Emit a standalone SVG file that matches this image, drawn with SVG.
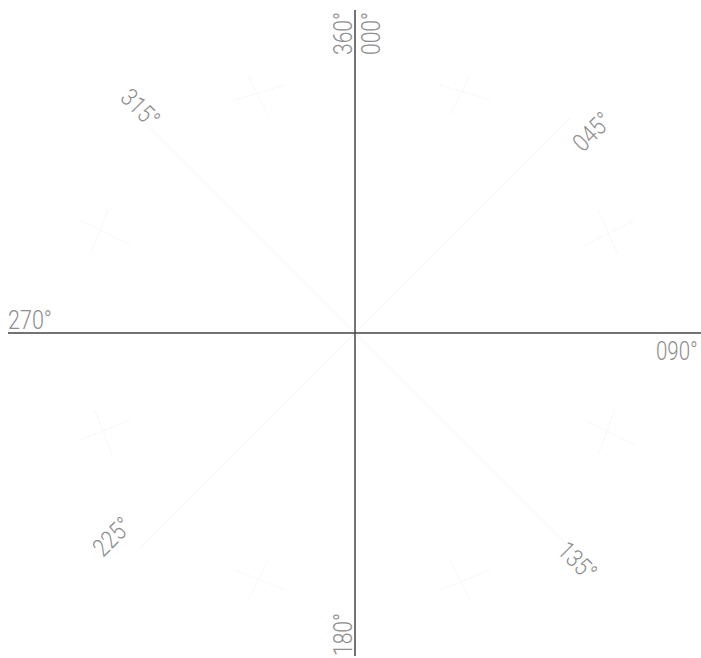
<svg xmlns="http://www.w3.org/2000/svg" width="701" height="658" viewBox="0 0 701 658">
<style>
.lbl{font-family:Roboto,"Liberation Sans",sans-serif;font-weight:300;font-size:25px;fill:#8e8e8e}
.axis{stroke:#444;stroke-width:1.5;fill:none}
.faint{stroke:#f5f5f5;stroke-width:1;fill:none}
.tick{stroke:#f8f8f8;stroke-width:1;fill:none}
</style>
<rect width="701" height="658" fill="#fff"/>
<g id="connectors">
<line class="faint" x1="355" y1="333" x2="140" y2="118"/>
<line class="faint" x1="355" y1="333" x2="570" y2="118"/>
<line class="faint" x1="355" y1="333" x2="140" y2="548"/>
<line class="faint" x1="355" y1="333" x2="570" y2="548"/>
<line class="tick" x1="80" y1="220" x2="130" y2="245"/>
<line class="tick" x1="108" y1="210" x2="90" y2="255"/>
<line class="tick" x1="235" y1="100" x2="285" y2="85"/>
<line class="tick" x1="248" y1="75" x2="268" y2="115"/>
<line class="tick" x1="440" y1="85" x2="490" y2="100"/>
<line class="tick" x1="470" y1="75" x2="450" y2="115"/>
<line class="tick" x1="585" y1="245" x2="635" y2="220"/>
<line class="tick" x1="598" y1="210" x2="618" y2="255"/>
<line class="tick" x1="80" y1="440" x2="130" y2="420"/>
<line class="tick" x1="95" y1="410" x2="112" y2="455"/>
<line class="tick" x1="585" y1="420" x2="635" y2="445"/>
<line class="tick" x1="615" y1="410" x2="598" y2="455"/>
<line class="tick" x1="235" y1="570" x2="285" y2="590"/>
<line class="tick" x1="268" y1="560" x2="248" y2="600"/>
<line class="tick" x1="440" y1="590" x2="490" y2="570"/>
<line class="tick" x1="450" y1="560" x2="470" y2="600"/>
<line class="axis" x1="355" y1="10" x2="355" y2="656"/>
<line class="axis" x1="8" y1="333" x2="701" y2="333"/>
</g>
<g id="n000"><text class="lbl" transform="translate(380,55) rotate(-90)" textLength="43" lengthAdjust="spacingAndGlyphs">000°</text></g>
<g id="n360"><text class="lbl" transform="translate(352,55) rotate(-90)" textLength="43" lengthAdjust="spacingAndGlyphs">360°</text></g>
<g id="n045"><text class="lbl" transform="translate(583,153) rotate(-45)" textLength="43" lengthAdjust="spacingAndGlyphs">045°</text></g>
<g id="n090"><text class="lbl" transform="translate(656,360) scale(0.82,1)">090°</text></g>
<g id="n135"><text class="lbl" transform="translate(556,552) rotate(45)" textLength="43" lengthAdjust="spacingAndGlyphs">135°</text></g>
<g id="n180"><text class="lbl" transform="translate(352,656) rotate(-90)" textLength="43" lengthAdjust="spacingAndGlyphs">180°</text></g>
<g id="n225"><text class="lbl" transform="translate(103,558) rotate(-45)" textLength="43" lengthAdjust="spacingAndGlyphs">225°</text></g>
<g id="n270"><text class="lbl" x="8" y="329" textLength="44" lengthAdjust="spacingAndGlyphs">270°</text></g>
<g id="n315"><text class="lbl" transform="translate(119,99) rotate(45)" textLength="43" lengthAdjust="spacingAndGlyphs">315°</text></g>
</svg>
